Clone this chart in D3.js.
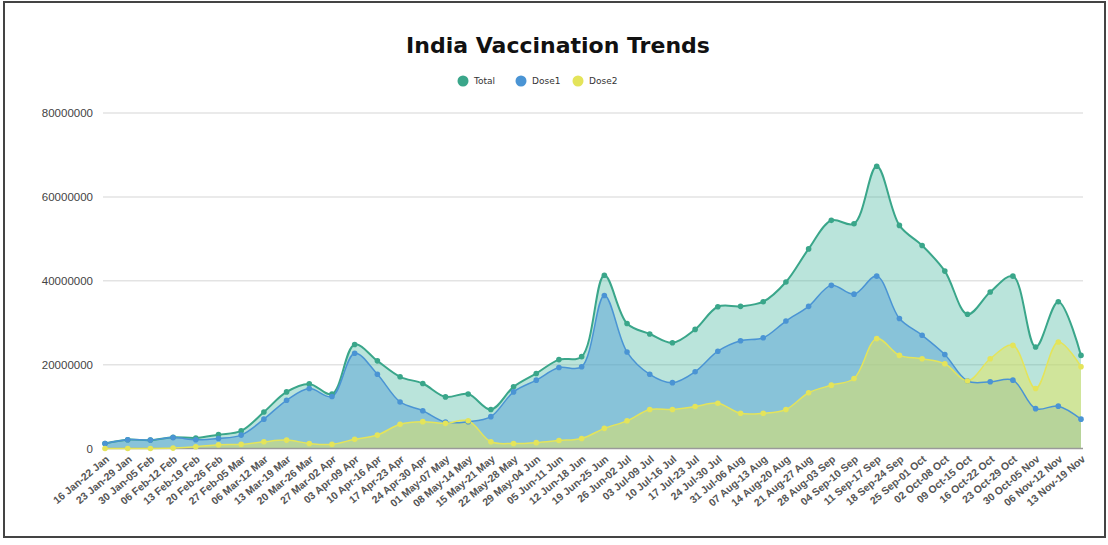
<!DOCTYPE html>
<html>
<head>
<meta charset="utf-8">
<script src="https://cdn.jsdelivr.net/npm/d3@7/dist/d3.min.js"></script>
<style>
  html, body { margin: 0; padding: 0; background: #fff; }
  svg { display: block; font-family: "DejaVu Sans", Verdana, sans-serif; }
  .grid line { stroke: #e3e3e3; stroke-width: 1.5; }
  .axis text { fill: #444; font-size: 11.5px; }
  .axis path, .axis line { display: none; }
</style>
</head>
<body>
<svg id="chart" width="1108" height="545"></svg>
<script>
// Weekly ranges shown on the x axis
const weeks = [
  '16 Jan-22 Jan', '23 Jan-29 Jan', '30 Jan-05 Feb', '06 Feb-12 Feb', '13 Feb-19 Feb',
  '20 Feb-26 Feb', '27 Feb-05 Mar', '06 Mar-12 Mar', '13 Mar-19 Mar', '20 Mar-26 Mar',
  '27 Mar-02 Apr', '03 Apr-09 Apr', '10 Apr-16 Apr', '17 Apr-23 Apr', '24 Apr-30 Apr',
  '01 May-07 May', '08 May-14 May', '15 May-21 May', '22 May-28 May', '29 May-04 Jun',
  '05 Jun-11 Jun', '12 Jun-18 Jun', '19 Jun-25 Jun', '26 Jun-02 Jul', '03 Jul-09 Jul',
  '10 Jul-16 Jul', '17 Jul-23 Jul', '24 Jul-30 Jul', '31 Jul-06 Aug', '07 Aug-13 Aug',
  '14 Aug-20 Aug', '21 Aug-27 Aug', '28 Aug-03 Sep', '04 Sep-10 Sep', '11 Sep-17 Sep',
  '18 Sep-24 Sep', '25 Sep-01 Oct', '02 Oct-08 Oct', '09 Oct-15 Oct', '16 Oct-22 Oct',
  '23 Oct-29 Oct', '30 Oct-05 Nov', '06 Nov-12 Nov', '13 Nov-19 Nov',
];

// Doses administered per week
const total = [
  1200000, 2100000, 2000000, 2700000, 2500000, 3300000, 4200000, 8700000, 13500000, 15400000,
  13000000, 24800000, 20900000, 17100000, 15500000, 12300000, 13000000, 9300000, 14700000, 17900000,
  21200000, 21900000, 41300000, 29800000, 27300000, 25200000, 28400000, 33800000, 33900000, 35000000,
  39700000, 47600000, 54400000, 53600000, 67300000, 53200000, 48400000, 42300000, 32000000, 37300000,
  41100000, 24200000, 35000000, 22200000,
];
const dose1 = [
  1200000, 2100000, 2000000, 2600000, 2100000, 2400000, 3200000, 7000000, 11500000, 14300000,
  12400000, 22700000, 17700000, 11100000, 9000000, 6300000, 6400000, 7600000, 13500000, 16300000,
  19300000, 19500000, 36500000, 23000000, 17700000, 15700000, 18300000, 23200000, 25700000, 26400000,
  30400000, 33900000, 38900000, 36800000, 41100000, 31000000, 27000000, 22400000, 16100000, 15900000,
  16300000, 9500000, 10100000, 7000000,
];
const dose2 = [
  0, 0, 0, 100000, 400000, 900000, 1000000, 1600000, 2000000, 1200000,
  1000000, 2200000, 3200000, 5800000, 6400000, 6000000, 6600000, 1600000, 1200000, 1400000,
  1900000, 2400000, 4800000, 6600000, 9300000, 9300000, 10000000, 10800000, 8400000, 8400000,
  9300000, 13300000, 15100000, 16700000, 26200000, 22200000, 21400000, 20200000, 16100000, 21400000,
  24600000, 14300000, 25400000, 19500000,
];

const yTicks = [0, 20000000, 40000000, 60000000, 80000000];

const series = [
  { name: 'Total', values: total, line: '#3aa68a', fill: '#40b39a', fillOpacity: 0.36, width: 2 },
  { name: 'Dose1', values: dose1, line: '#4a94d4', fill: '#4c9bd6', fillOpacity: 0.45, width: 1.5 },
  { name: 'Dose2', values: dose2, line: '#e4e45a', fill: '#e6e65c', fillOpacity: 0.5, width: 1.5 },
];

const dims = { left: 105, right: 1081, top: 113, bottom: 448.5 };
const svg = d3.select('#chart');

// Outer frame
svg.append('rect')
  .attr('x', 4).attr('y', 2)
  .attr('width', 1101).attr('height', 535)
  .attr('fill', '#fff')
  .attr('stroke', '#444')
  .attr('stroke-width', 2);

// Scales
const xScale = d3.scalePoint()
  .domain(weeks)
  .range([dims.left, dims.right]);
const yScale = d3.scaleLinear()
  .domain([0, 80000000])
  .range([dims.bottom, dims.top]);

// Horizontal gridlines
svg.append('g')
  .attr('class', 'grid')
  .selectAll('line')
  .data(yTicks.filter((d) => d > 0))
  .join('line')
  .attr('x1', dims.left - 2)
  .attr('x2', dims.right + 2)
  .attr('y1', (d) => yScale(d))
  .attr('y2', (d) => yScale(d));

// Y axis labels
const yAxis = d3.axisLeft(yScale)
  .tickValues(yTicks)
  .tickFormat(d3.format('d'))
  .tickSize(0)
  .tickPadding(0);
svg.append('g')
  .attr('class', 'axis y-axis')
  .attr('transform', `translate(${dims.left - 12},0)`)
  .call(yAxis);

// Areas, drawn from zero so that they overlap
const curve = d3.curveCatmullRom.alpha(0.5);
const areaGen = d3.area()
  .x((_, i) => xScale(weeks[i]))
  .y0(yScale(0))
  .y1((d) => yScale(d))
  .curve(curve);
const lineGen = d3.line()
  .x((_, i) => xScale(weeks[i]))
  .y((d) => yScale(d))
  .curve(curve);

svg.append('g').attr('class', 'areas')
  .selectAll('path')
  .data(series)
  .join('path')
  .attr('d', (s) => areaGen(s.values))
  .attr('fill', (s) => s.fill)
  .attr('fill-opacity', (s) => s.fillOpacity);

// Baseline
svg.append('line')
  .attr('x1', dims.left - 2)
  .attr('x2', dims.right + 2)
  .attr('y1', yScale(0))
  .attr('y2', yScale(0))
  .attr('stroke', '#9a9a9a')
  .attr('stroke-width', 1.5);

svg.append('g').attr('class', 'lines')
  .selectAll('path')
  .data(series)
  .join('path')
  .attr('d', (s) => lineGen(s.values))
  .attr('fill', 'none')
  .attr('stroke', (s) => s.line)
  .attr('stroke-width', (s) => s.width);

// Point markers
const markers = svg.append('g').attr('class', 'markers');
series.forEach((s) => {
  markers.append('g')
    .selectAll('circle')
    .data(s.values)
    .join('circle')
    .attr('cx', (_, i) => xScale(weeks[i]))
    .attr('cy', (d) => yScale(d))
    .attr('r', 2.8)
    .attr('fill', s.line);
});

// X axis labels, rotated
const xAxis = d3.axisBottom(xScale).tickSize(0).tickPadding(0);
const xAxisGroup = svg.append('g')
  .attr('class', 'axis x-axis')
  .attr('transform', `translate(2,${dims.bottom + 9})`)
  .call(xAxis);
xAxisGroup.selectAll('text')
  .attr('text-anchor', 'end')
  .attr('dy', '0.35em')
  .attr('y', 0)
  .attr('transform', 'rotate(-40)')
  .style('font-size', '10.5px')
  .style('font-weight', 'bold')
  .style('fill', '#555');

// Title
svg.append('text')
  .attr('x', 558)
  .attr('y', 53)
  .attr('text-anchor', 'middle')
  .style('font-size', '22px')
  .style('font-weight', 'bold')
  .style('fill', '#111')
  .text('India Vaccination Trends');

// Legend
const legendX = [463, 521, 578];
const legend = svg.append('g').attr('class', 'legend')
  .selectAll('g')
  .data(series)
  .join('g')
  .attr('transform', (_, i) => `translate(${legendX[i]},81)`);
legend.append('circle')
  .attr('r', 5.5)
  .attr('fill', (s) => s.line);
legend.append('text')
  .attr('x', 11)
  .attr('dy', '0.35em')
  .style('font-size', '9px')
  .style('fill', '#333')
  .text((s) => s.name);
</script>
</body>
</html>
